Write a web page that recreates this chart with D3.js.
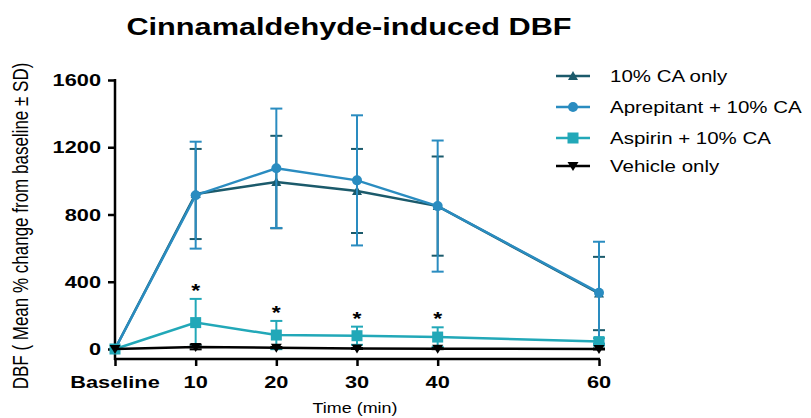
<!DOCTYPE html>
<html><head><meta charset="utf-8">
<script src="https://cdn.jsdelivr.net/npm/d3@7"></script>
<style>body{margin:0;background:#fff}svg{display:block}text{font-family:Arial,"Liberation Sans",sans-serif}</style>
</head><body><svg id="c" width="811" height="418"></svg>
<script>
const times = [0, 10, 20, 30, 40, 60];
const xTickLabels = ["Baseline", "10", "20", "30", "40", "60"];
const yTicks = [0, 400, 800, 1200, 1600];
const seriesNames = ["10% CA only", "Aprepitant + 10% CA", "Aspirin + 10% CA", "Vehicle only"];
const caOnly = [0, 922, 993, 940, 850, 330];
const caOnlySD = [0, 268, 275, 250, 295, 218];
const aprep = [0, 915, 1075, 1003, 850, 335];
const aprepSD = [0, 318, 355, 387, 390, 303];
const aspirin = [0, 157, 83, 79, 71, 44];
const aspirinSD = [0, 141, 84, 54, 58, 20];
const vehicle = [0, 12, 8, 3, 2, 0];
const vehicleSD = [0, 14, 4, 3, 3, 3];
const starTimes = [10, 20, 30, 40];
const colors = ["#1b5a6b", "#2a8cc0", "#22a8b8", "#000000"];
const markers = ["triangle", "circle", "square", "triangleDown"];

const SX = 1.28;
const svg = d3.select("#c");
const x = d3.scaleLinear().domain([0, 60]).range([115, 599]);
const y = d3.scaleLinear().domain([0, 1600]).range([349, 80]);
const xAxisY = 359;

function txt(g, px, py, s, size, weight, anchor, extra) {
  return g.append("text").attr("transform", `translate(${px},${py}) scale(${SX},1)` + (extra || ""))
    .attr("font-size", size).attr("font-weight", weight).attr("text-anchor", anchor)
    .attr("fill", "#000").text(s);
}

// title
txt(svg, 349, 35, "Cinnamaldehyde-induced DBF", 24, "bold", "middle");

// y axis
const yAxis = svg.append("g").attr("transform", `translate(115,0)`)
  .call(d3.axisLeft(y).tickValues(yTicks).tickSize(7).tickSizeOuter(0).tickFormat(""));
yAxis.select(".domain").remove();
yAxis.selectAll(".tick line").attr("stroke", "#000").attr("stroke-width", 2.5);
svg.append("line").attr("x1", 115).attr("x2", 115).attr("y1", y(1600) - 1).attr("y2", xAxisY + 1)
  .attr("stroke", "#000").attr("stroke-width", 2.5);
yTicks.forEach(v => txt(svg, 101, y(v) + 6, String(v), 17, "bold", "end"));

// x axis
const xAxis = svg.append("g").attr("transform", `translate(0,${xAxisY})`)
  .call(d3.axisBottom(x).tickValues(times).tickSize(7).tickSizeOuter(0).tickFormat(""));
xAxis.select(".domain").remove();
xAxis.selectAll(".tick line").attr("stroke", "#000").attr("stroke-width", 2.5);
svg.append("line").attr("x1", 114).attr("x2", x(60) + 1).attr("y1", xAxisY).attr("y2", xAxisY)
  .attr("stroke", "#000").attr("stroke-width", 2.5);
times.forEach((t, i) => txt(svg, x(t), 388, xTickLabels[i], 17, "bold", "middle"));

// axis titles
txt(svg, 355, 413, "Time (min)", 14, "normal", "middle");
svg.append("text").attr("transform", `translate(28,226) scale(${SX},1) rotate(-90)`)
  .attr("font-size", 17).attr("text-anchor", "middle").attr("fill", "#000")
  .text("DBF ( Mean % change from baseline \u00b1 SD)");

function drawMarker(g, type, cx, cy, color) {
  if (type === "circle") {
    g.append("circle").attr("cx", cx).attr("cy", cy).attr("r", 5).attr("fill", color);
  } else if (type === "square") {
    g.append("rect").attr("x", cx - 5.5).attr("y", cy - 5.5).attr("width", 11).attr("height", 11).attr("fill", color);
  } else if (type === "triangle") {
    g.append("path").attr("d", `M${cx},${cy - 5}L${cx + 5},${cy + 4}L${cx - 5},${cy + 4}Z`).attr("fill", color);
  } else {
    g.append("path").attr("d", `M${cx},${cy + 5}L${cx + 5.5},${cy - 4}L${cx - 5.5},${cy - 4}Z`).attr("fill", color);
  }
}

const allData = [[caOnly, caOnlySD], [aprep, aprepSD], [aspirin, aspirinSD], [vehicle, vehicleSD]];
const line = d3.line().x((d, i) => x(times[i])).y(d => y(d));
const order = [0, 1, 2, 3];
order.forEach(si => {
  const [vals, sds] = allData[si];
  const g = svg.append("g");
  const col = colors[si];
  vals.forEach((v, i) => {
    if (sds[i] <= 0) return;
    const cx = x(times[i]);
    const y1 = y(v + sds[i]), y0 = y(v - sds[i]);
    g.append("line").attr("x1", cx).attr("x2", cx).attr("y1", y1).attr("y2", y0).attr("stroke", col).attr("stroke-width", 2);
    [y1, y0].forEach(yy => g.append("line").attr("x1", cx - 6).attr("x2", cx + 6).attr("y1", yy).attr("y2", yy).attr("stroke", col).attr("stroke-width", 2));
  });
  g.append("path").datum(vals).attr("d", line).attr("fill", "none").attr("stroke", col).attr("stroke-width", 2.5);
  vals.forEach((v, i) => drawMarker(g, markers[si], x(times[i]), y(v), col));
});

// significance stars
starTimes.forEach(t => {
  const i = times.indexOf(t);
  txt(svg, x(t), y(aspirin[i] + aspirinSD[i]) - 2, "*", 18, "bold", "middle");
});

// legend
const legY = [76, 107, 138, 166];
seriesNames.forEach((n, i) => {
  const g = svg.append("g");
  g.append("line").attr("x1", 556).attr("x2", 590).attr("y1", legY[i]).attr("y2", legY[i])
    .attr("stroke", colors[i]).attr("stroke-width", 2.5);
  drawMarker(g, markers[i], 573, legY[i], colors[i]);
  txt(g, 610, legY[i] + 6, n, 16, "normal", "start");
});
</script></body></html>
